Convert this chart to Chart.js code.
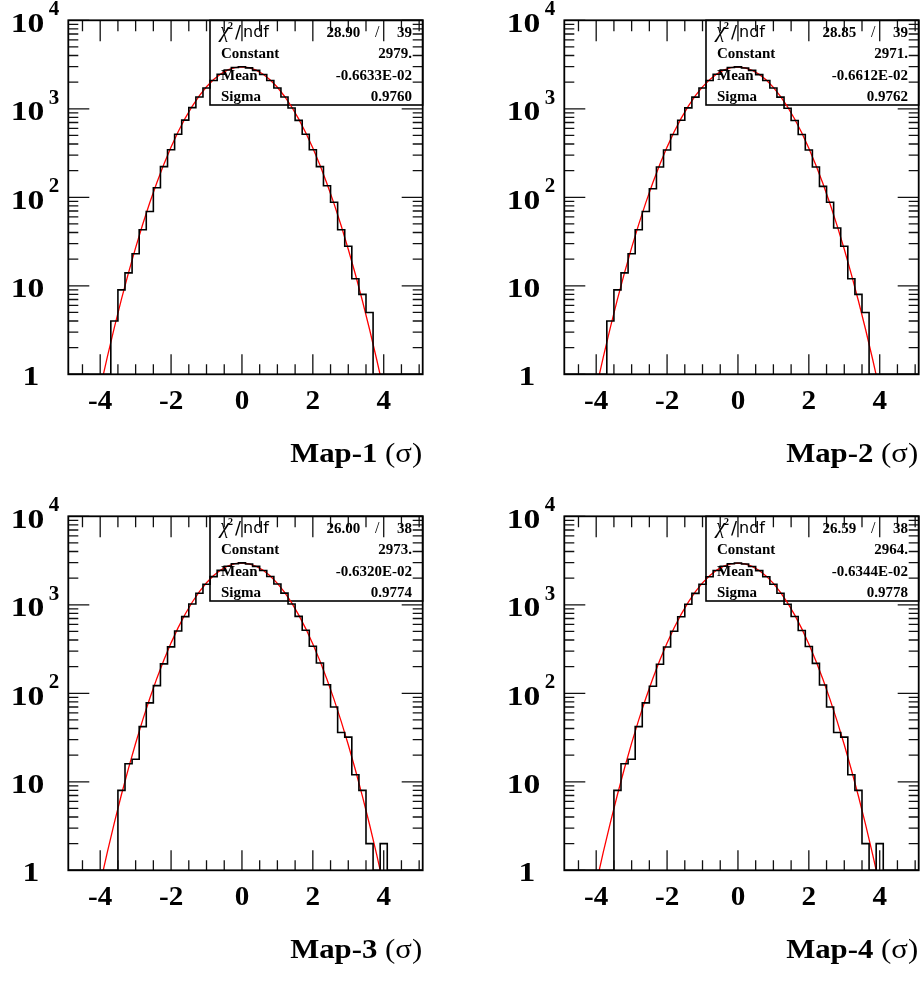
<!DOCTYPE html>
<html><head><meta charset="utf-8">
<script src="https://cdn.jsdelivr.net/npm/chart.js@4.4.1/dist/chart.umd.min.js"></script>
<style>
html,body{margin:0;padding:0;background:#fff;width:922px;height:982px;overflow:hidden;position:relative}
canvas{position:absolute}
</style></head><body>
<canvas id="c0" width="426" height="491" style="left:0px;top:0px"></canvas>
<canvas id="c1" width="426" height="491" style="left:496px;top:0px"></canvas>
<canvas id="c2" width="426" height="486" style="left:0px;top:496px"></canvas>
<canvas id="c3" width="426" height="486" style="left:496px;top:496px"></canvas>
<script>
// ---- data ----
const binEdges = [-4.9,-4.7,-4.5,-4.3,-4.1,-3.9,-3.7,-3.5,-3.3,-3.1,-2.9,-2.7,-2.5,-2.3,-2.1,-1.9,-1.7,-1.5,-1.3,-1.1,-0.9,-0.7,-0.5,-0.3,-0.1,0.1,0.3,0.5,0.7,0.9,1.1,1.3,1.5,1.7,1.9,2.1,2.3,2.5,2.7,2.9,3.1,3.3,3.5,3.7,3.9,4.1,4.3,4.5,4.7,4.9,5.1];
const counts1 = [0,0,0,0,0,0,4,9,14,23,43,69,128,222,345,515,745,1030,1360,1720,2090,2460,2740,2930,2985,2900,2720,2440,2090,1720,1360,1020,740,515,345,222,135,88,43,28,12,8,5,0,0,0,0,0,0,0];
const counts2 = [0,0,0,0,0,0,4,9,14,23,43,69,125,220,342,512,742,1025,1355,1715,2085,2455,2735,2925,2975,2895,2715,2435,2085,1715,1355,1015,738,512,342,220,133,88,45,28,12,8,5,0,0,0,0,0,0,0];
const counts3 = [0,0,0,0,0,0,0,8,16,18,42,78,122,215,335,505,735,1020,1350,1710,2080,2450,2730,2915,2975,2895,2715,2440,2085,1715,1355,1020,740,515,340,220,125,70,36,32,12,8,2,0,2,0,0,0,0,0];
const counts4 = [0,0,0,0,0,0,0,8,16,18,42,78,120,213,333,503,733,1015,1345,1705,2075,2440,2722,2905,2965,2888,2708,2432,2078,1708,1350,1015,738,512,338,218,124,70,36,32,12,8,2,0,2,0,0,0,0,0];
const fitX = [-4.2,-4.0,-3.8,-3.6,-3.4,-3.2,-3.0,-2.8,-2.6,-2.4,-2.2,-2.0,-1.8,-1.6,-1.4,-1.2,-1.0,-0.8,-0.6,-0.4,-0.2,0,0.2,0.4,0.6,0.8,1.0,1.2,1.4,1.6,1.8,2.0,2.2,2.4,2.6,2.8,3.0,3.2,3.4,3.6,3.8,4.0,4.2];
const fit1 = [0.292,0.690,1.565,3.39,7.07,14.11,27.0,49.6,87.3,147.3,238.5,370,550.8,785.6,1075,1410.5,1774.6,2140.7,2476.5,2746.6,2921,2979,2913,2731.4,2455.8,2117,1750,1387,1054.6,768.6,537,360,231.3,142.5,84.2,47.7,25.9,13.5,6.74,3.23,1.48,0.652,0.276];
const fit2 = [0.292,0.689,1.563,3.39,7.06,14.09,26.95,49.5,87.1,146.9,237.9,369,549.4,783.6,1072,1407,1770,2135,2470,2739,2913,2971,2905,2724,2449,2111,1745,1383,1052,766.8,535.6,359,230.7,142.1,84.0,47.6,25.86,13.48,6.73,3.23,1.48,0.652,0.276];
const fit3 = [0.299,0.705,1.596,3.45,7.18,14.30,27.3,50.1,88.0,148.3,239.7,371.5,552.3,787,1076,1410.7,1773.7,2138.3,2472.8,2741.7,2915.1,2973,2907.2,2726.4,2452.4,2114.9,1749.1,1387.3,1055.6,770.1,538.5,361.4,232.5,143.5,84.9,48.2,26.2,13.7,6.84,3.29,1.51,0.667,0.283];
const fit4 = [0.301,0.708,1.601,3.46,7.19,14.32,27.33,50.1,88.0,148.2,239.5,371,551.5,785.5,1073.6,1407.3,1769,2132.6,2465.7,2733.7,2906.5,2964,2898.7,2718.6,2445.2,2109,1744.7,1384,1053.3,768.6,537.7,361,232.3,143.4,84.9,48.2,26.2,13.7,6.86,3.30,1.51,0.669,0.284];
const xMajorTicks = [-4,-2,0,2,4];
const xMinorTicks = [-4.5,-3.5,-3,-2.5,-1.5,-1,-0.5,0.5,1,1.5,2.5,3,3.5,4.5,5];
const yDecadeTicks = [1,10,100,1000,10000];
const yMinorTicks = [2,3,4,5,6,7,8,9,20,30,40,50,60,70,80,90,200,300,400,500,600,700,800,900,2000,3000,4000,5000,6000,7000,8000,9000];
const panelNames = ['Map-1','Map-2','Map-3','Map-4'];
const statChi2 = ['28.90','28.85','26.00','26.59'];
const statNdf = ['39','39','38','38'];
const statConstant = ['2979.','2971.','2973.','2964.'];
const statMean = ['-0.6633E-02','-0.6612E-02','-0.6320E-02','-0.6344E-02'];
const statSigma = ['0.9760','0.9762','0.9774','0.9778'];

const allCounts = [counts1, counts2, counts3, counts4];
const allFits = [fit1, fit2, fit3, fit4];
const X_MIN = -4.9, X_MAX = 5.1, Y_MIN = 1, Y_MAX = 10000;

const SERIF = '"Liberation Serif", "Times New Roman", serif';
const SANS = '"DejaVu Sans", sans-serif';

function stretchText(ctx, txt, x, y, sx, align) {
  ctx.save();
  ctx.translate(x, y);
  ctx.scale(sx, 1);
  ctx.textAlign = align;
  ctx.fillText(txt, 0, 0);
  ctx.restore();
}

const rootStyle = {
  id: 'rootStyle',
  beforeDatasetsDraw(chart, args, opts) {
    const i = opts.idx;
    const {ctx, chartArea: a} = chart;
    const bl = a.left + 141.7, bt = a.top, br = a.right, bb = a.top + 84.7;
    ctx.save();
    ctx.strokeStyle = '#000';
    ctx.lineWidth = 1.6;
    ctx.strokeRect(bl, bt, br - bl, bb - bt);
    ctx.fillStyle = '#000';
    ctx.textBaseline = 'alphabetic';
    const tx = bl + 11, vr = br - 10.7;
    const base = [bt + 17, bt + 38, bt + 59.5, bt + 80.5];
    // chi2/ndf row
    ctx.font = 'italic 21px ' + SERIF;
    ctx.textAlign = 'left';
    ctx.fillText('\u03C7', tx - 1, base[0]);
    ctx.font = 'bold 10px ' + SERIF;
    ctx.fillText('2', tx + 7, base[0] - 8);
    ctx.font = '18px ' + SANS;
    ctx.fillText('/', tx + 14, base[0] + 1);
    ctx.font = '16px ' + SANS;
    ctx.fillText('ndf', tx + 22, base[0]);
    ctx.font = 'bold 15px ' + SERIF;
    ctx.textAlign = 'right';
    ctx.fillText(statChi2[i], br - 62.5, base[0]);
    ctx.fillText(statNdf[i], vr, base[0]);
    ctx.font = '16px ' + SERIF;
    ctx.textAlign = 'center';
    ctx.fillText('/', br - 45.5, base[0]);
    ctx.font = 'bold 15px ' + SERIF;
    ctx.textAlign = 'left';
    ctx.fillText('Constant', tx, base[1]);
    ctx.fillText('Mean', tx, base[2]);
    ctx.fillText('Sigma', tx, base[3]);
    ctx.textAlign = 'right';
    ctx.fillText(statConstant[i], vr, base[1]);
    ctx.fillText(statMean[i], vr, base[2]);
    ctx.fillText(statSigma[i], vr, base[3]);
    ctx.restore();
  },
  afterDatasetsDraw(chart, args, opts) {
    const i = opts.idx;
    const {ctx, chartArea: a, scales: {x, y}} = chart;
    ctx.save();
    ctx.strokeStyle = '#111';
    ctx.lineWidth = 1.3;
    ctx.beginPath();
    const vt = (v, len) => {
      const px = x.getPixelForValue(v);
      ctx.moveTo(px, a.bottom); ctx.lineTo(px, a.bottom - len);
      ctx.moveTo(px, a.top); ctx.lineTo(px, a.top + len + 1);
    };
    xMajorTicks.forEach(v => vt(v, 20));
    xMinorTicks.forEach(v => vt(v, 10));
    const ht = (v, len) => {
      const py = y.getPixelForValue(v);
      ctx.moveTo(a.left, py); ctx.lineTo(a.left + len, py);
      ctx.moveTo(a.right, py); ctx.lineTo(a.right - len, py);
    };
    yDecadeTicks.forEach(v => ht(v, 21));
    yMinorTicks.forEach(v => ht(v, 10));
    ctx.stroke();
    ctx.strokeStyle = '#000';
    ctx.lineWidth = 1.8;
    ctx.strokeRect(a.left, a.top, a.right - a.left, a.bottom - a.top);
    // x labels
    ctx.fillStyle = '#000';
    ctx.textBaseline = 'alphabetic';
    ctx.font = 'bold 27px ' + SERIF;
    xMajorTicks.forEach(v => {
      stretchText(ctx, String(v), x.getPixelForValue(v), a.bottom + 35, 1.08, 'center');
    });
    // y labels
    yDecadeTicks.forEach(v => {
      const py = y.getPixelForValue(v);
      ctx.font = 'bold 28px ' + SERIF;
      if (v === 1) {
        stretchText(ctx, '1', a.left - 29, py + 10.7, 1.2, 'right');
      } else {
        stretchText(ctx, '10', a.left - 24, py + 11.4, 1.2, 'right');
        const e = Math.round(Math.log10(v));
        if (e >= 2) {
          ctx.font = 'bold 20px ' + SERIF;
          stretchText(ctx, String(e), a.left - 19.5, py - 5.3, 1.05, 'left');
        }
      }
    });
    // axis title
    ctx.font = '28px ' + SERIF;
    ctx.save();
    ctx.translate(a.right - 0.5, a.bottom + 87.4);
    ctx.scale(1.1, 1);
    ctx.textAlign = 'right';
    ctx.fillText('(\u03C3)', 0, 0);
    const w = ctx.measureText('(\u03C3)').width;
    ctx.font = 'bold 28px ' + SERIF;
    ctx.fillText(panelNames[i] + ' ', -w, 0);
    ctx.restore();
    ctx.restore();
  }
};

function histPoints(counts) {
  const pts = counts.map((c, k) => ({x: binEdges[k], y: Math.max(c, Y_MIN)}));
  pts.push({x: binEdges[counts.length], y: Math.max(counts[counts.length - 1], Y_MIN)});
  return pts;
}

for (let i = 0; i < 4; i++) {
  const cv = document.getElementById('c' + i);
  new Chart(cv, {
    type: 'line',
    data: {
      datasets: [
        {data: histPoints(allCounts[i]), stepped: true, borderColor: '#000', borderWidth: 1.6, pointRadius: 0, fill: false},
        {data: fitX.map((v, k) => ({x: v, y: allFits[i][k]})), borderColor: '#ff0000', borderWidth: 1.3, pointRadius: 0, tension: 0, fill: false}
      ]
    },
    options: {
      responsive: false, animation: false, devicePixelRatio: 1,
      layout: {padding: {left: 68.3, top: 20.3, right: 3.3, bottom: cv.height - 374.3}},
      scales: {
        x: {type: 'linear', min: X_MIN, max: X_MAX, display: false},
        y: {type: 'logarithmic', min: Y_MIN, max: Y_MAX, display: false}
      },
      plugins: {legend: {display: false}, tooltip: {enabled: false}, rootStyle: {idx: i}},
      events: []
    },
    plugins: [rootStyle]
  });
}
</script>
</body></html>
